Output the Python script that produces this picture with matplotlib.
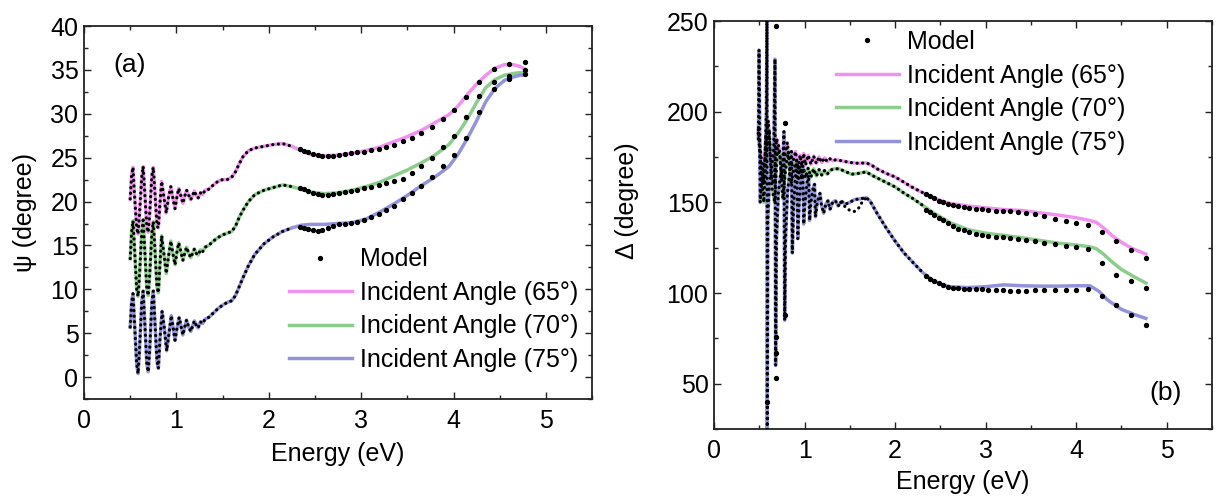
#!/usr/bin/env python
'''
ellipsometry psi / delta vs energy, three incident angles + model
'''
import matplotlib
matplotlib.use('Agg')
import matplotlib.pyplot as plt
from matplotlib.lines import Line2D
from matplotlib.ticker import MultipleLocator

plt.rcParams['font.family'] = ['Liberation Sans', 'DejaVu Sans']

LABELS = ['Incident Angle (65°)', 'Incident Angle (70°)', 'Incident Angle (75°)']
COLORS = ['#ee80ee', '#78c478', '#8080d4']

# ---- panel (a): psi, measured curves (energy eV, psi degree)
psi65 = [(0.50,20.3),(0.515,23.0),(0.53,23.9),(0.545,21.0),(0.57,17.0),(0.585,16.3),(0.60,18.5),(0.625,22.8),
         (0.64,24.0),(0.655,21.5),(0.68,17.0),(0.695,16.5),(0.71,18.5),(0.735,23.0),(0.75,23.9),(0.765,21.5),
         (0.79,17.2),(0.805,17.0),(0.82,19.5),(0.84,22.3),(0.865,20.5),(0.89,18.7),(0.915,20.5),(0.94,21.7),
         (0.96,20.5),(0.985,19.2),(1.005,20.5),(1.025,21.5),(1.05,20.6),(1.07,19.8),(1.09,20.6),(1.11,21.3),
         (1.13,20.8),(1.155,20.2),(1.175,20.7),(1.195,21.2),(1.215,20.7),(1.235,20.4),(1.26,21.0),(1.285,20.8),
         (1.31,21.3),(1.35,21.4),(1.40,21.9),(1.45,22.3),(1.50,22.5),(1.55,22.5),(1.60,22.8),(1.64,23.4),
         (1.68,24.3),(1.72,25.1),(1.78,25.8),(1.85,26.1),(1.95,26.3),(2.05,26.5),(2.15,26.6),(2.25,26.3),
         (2.35,25.8),(2.45,25.4),(2.6,25.2),(2.75,25.3),(2.9,25.5),(3.05,25.8),(3.2,26.2),(3.35,26.8),
         (3.5,27.4),(3.65,28.1),(3.8,29.0),(3.95,29.9),(4.05,30.9),(4.15,32.2),(4.25,33.4),(4.35,34.4),
         (4.45,35.2),(4.55,35.6),(4.65,35.6),(4.72,35.4),(4.77,35.1)]
psi70 = [(0.50,13.5),(0.515,16.5),(0.53,17.8),(0.545,15.0),(0.57,10.0),(0.585,9.2),(0.60,11.5),(0.625,16.5),
         (0.64,17.9),(0.655,15.0),(0.68,10.0),(0.695,9.3),(0.71,11.5),(0.735,16.5),(0.75,17.7),(0.765,15.0),
         (0.79,10.2),(0.805,9.6),(0.82,12.5),(0.84,16.1),(0.865,14.0),(0.89,11.8),(0.915,13.8),(0.94,15.5),
         (0.96,14.2),(0.985,12.8),(1.005,14.2),(1.025,15.3),(1.05,14.2),(1.07,13.3),(1.09,14.1),(1.11,14.8),
         (1.13,14.2),(1.155,13.6),(1.175,14.1),(1.195,14.6),(1.215,14.1),(1.235,13.9),(1.26,14.5),(1.285,14.3),
         (1.31,14.8),(1.35,15.0),(1.40,15.5),(1.45,15.9),(1.50,16.2),(1.55,16.4),(1.60,16.6),(1.64,17.2),
         (1.68,18.2),(1.72,19.0),(1.78,20.0),(1.85,20.8),(1.95,21.3),(2.05,21.6),(2.15,21.9),(2.25,21.7),
         (2.35,21.4),(2.45,21.1),(2.6,20.9),(2.75,21.0),(2.9,21.3),(3.05,21.7),(3.2,22.2),(3.35,22.9),
         (3.5,23.6),(3.65,24.4),(3.8,25.3),(3.95,26.5),(4.05,27.8),(4.15,29.4),(4.25,31.3),(4.35,33.0),
         (4.45,33.9),(4.55,34.4),(4.65,34.6),(4.72,34.7),(4.77,34.7)]
psi75 = [(0.50,5.7),(0.515,8.5),(0.53,9.5),(0.545,6.5),(0.57,1.5),(0.585,0.4),(0.60,3.0),(0.625,8.5),
         (0.64,9.8),(0.655,6.8),(0.68,1.5),(0.695,0.6),(0.71,3.0),(0.735,8.5),(0.75,9.8),(0.765,6.8),
         (0.79,1.8),(0.805,1.0),(0.82,4.0),(0.845,7.5),(0.87,5.5),(0.895,3.0),(0.92,5.0),(0.945,7.0),
         (0.965,5.6),(0.985,4.2),(1.005,5.5),(1.03,6.8),(1.05,5.8),(1.07,4.8),(1.09,5.7),(1.11,6.5),
         (1.13,5.8),(1.155,5.2),(1.175,5.8),(1.195,6.4),(1.215,5.9),(1.235,5.6),(1.26,6.3),(1.285,6.1),
         (1.31,6.6),(1.35,6.8),(1.40,7.3),(1.45,7.8),(1.50,8.2),(1.55,8.5),(1.60,8.7),(1.64,9.3),
         (1.68,10.3),(1.72,11.3),(1.78,12.7),(1.85,14.0),(1.95,15.2),(2.05,16.0),(2.15,16.6),(2.25,17.0),
         (2.35,17.3),(2.45,17.4),(2.6,17.4),(2.75,17.5),(2.9,17.6),(3.05,18.0),(3.2,18.8),(3.35,19.7),
         (3.5,20.7),(3.65,21.8),(3.8,22.8),(3.95,24.0),(4.05,25.4),(4.15,27.2),(4.25,29.2),(4.35,31.4),
         (4.45,32.9),(4.55,33.8),(4.65,34.2),(4.72,34.4),(4.77,34.4)]

# model points above 2.3 eV (discrete dots), shared energies
model_e = [2.34, 2.38, 2.43, 2.48, 2.53, 2.58, 2.64, 2.70, 2.76, 2.82, 2.89, 2.96, 3.03, 3.11,
           3.19, 3.27, 3.36, 3.45, 3.55, 3.65, 3.77, 3.89, 4.00, 4.13, 4.28, 4.44, 4.60, 4.77]
psi65_model = [26.0, 25.8, 25.6, 25.4, 25.3, 25.2, 25.2, 25.2, 25.3, 25.4, 25.5, 25.6, 25.7, 25.9,
               26.0, 26.2, 26.5, 26.9, 27.3, 27.8, 28.5, 29.4, 30.4, 31.9, 33.6, 35.1, 35.7, 35.9]
psi70_model = [21.6, 21.4, 21.2, 21.0, 20.9, 20.8, 20.8, 20.9, 21.0, 21.1, 21.2, 21.3, 21.5, 21.7,
               21.9, 22.1, 22.4, 22.6, 23.3, 24.0, 25.0, 26.2, 27.5, 29.6, 32.0, 33.6, 34.3, 35.0]
psi75_model = [17.1, 17.0, 16.9, 16.8, 16.7, 16.8, 17.0, 17.2, 17.4, 17.5, 17.6, 17.7, 17.9, 18.2,
               18.6, 19.0, 19.5, 20.3, 21.0, 21.8, 22.8, 24.0, 25.3, 27.3, 30.2, 32.8, 34.0, 34.5]

# ---- panel (b): delta, measured curves
d65 = [(0.49,190),(0.52,175),(0.55,160),(0.57,185),(0.60,195),(0.63,165),(0.66,160),(0.69,185),
       (0.72,180),(0.75,162),(0.78,175),(0.81,183),(0.84,168),(0.87,172),(0.90,178),(0.93,168),
       (0.95,176),(0.97,170),(0.99,177),(1.01,170.5),(1.04,176),(1.07,171),(1.10,175.5),(1.13,171.5),
       (1.16,175),(1.19,172),(1.22,174.5),(1.25,172.5),(1.28,174),(1.31,173),(1.35,173.5),(1.4,173),
       (1.5,172),(1.6,171.5),(1.68,171.8),(1.74,170.5),(1.8,168.5),(1.9,166),(2.0,164),(2.1,161),
       (2.2,158),(2.3,155.5),(2.4,153),(2.5,151),(2.6,149.5),(2.8,148),(3.0,147),(3.2,146),
       (3.4,145.5),(3.6,144.2),(3.8,143),(4.0,141.5),(4.15,140),(4.22,139),(4.3,136),(4.4,131.5),
       (4.5,128),(4.62,124.5),(4.77,121.5)]
d70 = [(0.49,188),(0.52,168),(0.55,150),(0.58,180),(0.61,190),(0.64,158),(0.67,150),(0.70,180),
       (0.73,175),(0.76,152),(0.79,168),(0.82,178),(0.85,160),(0.88,168),(0.91,173),(0.93,162),
       (0.95,170),(0.97,163),(0.99,169),(1.01,163.5),(1.04,169),(1.07,164),(1.10,168.5),(1.13,164.5),
       (1.16,168),(1.19,165),(1.22,167.5),(1.25,165.5),(1.28,167.5),(1.32,168.5),(1.38,168.5),(1.45,167),
       (1.52,165.5),(1.6,166),(1.68,166.8),(1.74,165),(1.8,163.5),(1.9,161),(2.0,158.5),(2.1,155),
       (2.2,152),(2.3,148.5),(2.4,145),(2.5,142),(2.6,139),(2.7,137),(2.8,135),(3.0,133),
       (3.2,131.8),(3.4,130.5),(3.6,129),(3.8,127.5),(4.0,126.5),(4.15,125.5),(4.22,124.5),(4.3,121.5),
       (4.4,117),(4.5,113),(4.62,109.5),(4.77,105.5)]
d75 = [(0.49,185),(0.497,234),(0.503,200),(0.51,150),(0.525,160),(0.545,170),(0.565,175),(0.578,200),
       (0.584,255),(0.588,20),(0.594,140),(0.61,160),(0.635,168),(0.66,180),(0.673,229),(0.68,60),
       (0.69,130),(0.71,155),(0.735,165),(0.76,172),(0.772,189),(0.78,85),(0.79,130),(0.81,155),
       (0.84,168),(0.855,178),(0.865,122),(0.88,150),(0.905,168),(0.915,172),(0.925,130),(0.94,150),
       (0.965,165),(0.98,170),(0.99,138),(1.005,150),(1.03,162),(1.045,165),(1.055,140),(1.07,150),
       (1.095,158),(1.11,160),(1.12,142),(1.14,150),(1.17,155),(1.185,149),(1.21,144),(1.235,149),
       (1.26,151),(1.28,146),(1.31,150),(1.34,151),(1.37,148),(1.41,150.5),(1.45,149),(1.50,150),
       (1.55,151.5),(1.62,152),(1.68,152.5),(1.72,151),(1.8,144),(1.9,136),(2.0,128.6),(2.1,122),
       (2.2,116.7),(2.3,111.5),(2.4,107.5),(2.5,105),(2.6,103.5),(2.8,103),(3.0,103.5),(3.2,104.5),
       (3.4,104),(3.6,103.8),(3.8,103.8),(4.0,104),(4.15,104),(4.25,101),(4.35,96),(4.5,91),
       (4.65,88),(4.77,86)]

d65_model = [154.5, 153.5, 152.5, 151.0, 150.0, 149.0, 148.5, 148.0, 147.5, 147.0, 146.5, 146.3, 146.0, 145.5,
             145.3, 145.0, 144.5, 144.0, 143.5, 142.5, 141.0, 139.8, 138.8, 137.5, 133.5, 128.5, 123.5, 119.5]
d70_model = [146.0, 144.5, 143.0, 141.5, 140.0, 138.5, 137.0, 135.5, 134.5, 133.5, 132.8, 132.0, 131.5, 131.0,
             130.7, 130.3, 130.0, 129.3, 128.5, 127.7, 126.8, 126.0, 125.3, 124.0, 116.5, 110.0, 106.5, 103.0]
d75_model = [109.5, 108.0, 106.5, 105.3, 104.3, 103.5, 103.0, 102.5, 102.3, 102.0, 102.0, 102.0, 101.8, 101.6,
             101.5, 101.3, 101.2, 101.3, 101.5, 101.5, 101.4, 101.5, 101.7, 102.0, 98.5, 93.5, 88.0, 82.5]
# model dip under the 75 deg curve and stray model points among the spikes
d75_model_dip = [(1.40,150),(1.45,147.5),(1.50,145.5),(1.55,145),(1.60,147),(1.64,150.5),(1.68,152.5)]
d_model_stray = [(0.683,247),(0.683,53),(0.683,67),(0.683,76),(0.587,40),(0.782,194),(0.782,88)]

E_CUT = 2.3   # below this the model is drawn as a dense dotted trace
FS = 18


def trace(ax, pts, color, lw=2.5, alpha=0.85, z=2):
    x = [p[0] for p in pts]
    y = [p[1] for p in pts]
    ax.plot(x, y, '-', color=color, lw=lw, alpha=alpha, zorder=z)


def model_trace(ax, pts):
    x = [p[0] for p in pts if p[0] <= E_CUT]
    y = [p[1] for p in pts if p[0] <= E_CUT]
    ax.plot(x, y, color='k', lw=2.3, linestyle=(0, (0.05, 1.7)),
            dash_capstyle='round', zorder=3)


def style(ax):
    ax.set_xlim(0, 5.5)
    ax.xaxis.set_major_locator(MultipleLocator(1))
    ax.xaxis.set_minor_locator(MultipleLocator(0.5))
    ax.tick_params(which='both', direction='in', top=True, right=True, width=1.0,
                   labelsize=FS, color='#222222')
    ax.tick_params(which='major', length=5)
    ax.tick_params(which='minor', length=3)
    ax.tick_params(axis='x', pad=7)
    ax.tick_params(axis='y', pad=4)
    for s in ax.spines.values():
        s.set_linewidth(1.3)
        s.set_color('#222222')


def legend(ax, anchor):
    handles = [Line2D([], [], ls='none', marker='o', ms=2.8, color='k')]
    for c in COLORS:
        handles.append(Line2D([], [], color=c, lw=2.5, alpha=0.85))
    ax.legend(handles, ['Model'] + LABELS, loc='center left', bbox_to_anchor=anchor,
              frameon=False, fontsize=FS, handlelength=2.5, handletextpad=0.35,
              labelspacing=0.38, borderpad=0, borderaxespad=0)


fig = plt.figure(figsize=(12.16, 5.04), dpi=100)
ax1 = fig.add_axes([0.0691, 0.2083, 0.4178, 0.740])
ax2 = fig.add_axes([0.5872, 0.1488, 0.4095, 0.8095])

# panel (a)
for pts, c in zip([psi65, psi70, psi75], COLORS):
    trace(ax1, pts, c)
for pts in [psi65, psi70, psi75]:
    model_trace(ax1, pts)
for vals in [psi65_model, psi70_model, psi75_model]:
    ax1.plot(model_e, vals, 'o', ms=2.8, color='k', zorder=4)
style(ax1)
ax1.set_ylim(-2.5, 40)
ax1.yaxis.set_major_locator(MultipleLocator(5))
ax1.yaxis.set_minor_locator(MultipleLocator(2.5))
ax1.set_xlabel('Energy (eV)', fontsize=FS)
ax1.set_ylabel('ψ (degree)', fontsize=FS)
ax1.xaxis.set_label_coords(0.5, -0.115)
ax1.yaxis.set_label_coords(-0.093, 0.5)
ax1.text(0.089, 0.895, '(a)', transform=ax1.transAxes, fontsize=19, ha='center', va='center')
legend(ax1, (0.4035, 0.24))

# panel (b)
for pts, c in zip([d65, d70, d75], COLORS):
    trace(ax2, pts, c)
for pts in [d65, d70, d75, d75_model_dip]:
    model_trace(ax2, pts)
ax2.plot([p[0] for p in d_model_stray], [p[1] for p in d_model_stray], 'o', ms=2.8,
         color='k', zorder=4)
for vals in [d65_model, d70_model, d75_model]:
    ax2.plot(model_e, vals, 'o', ms=2.8, color='k', zorder=4)
style(ax2)
ax2.set_ylim(25, 250)
ax2.yaxis.set_major_locator(MultipleLocator(50))
ax2.yaxis.set_minor_locator(MultipleLocator(25))
ax2.set_xlabel('Energy (eV)', fontsize=FS)
ax2.set_ylabel('Δ (degree)', fontsize=FS)
ax2.xaxis.set_label_coords(0.5, -0.1)
ax2.yaxis.set_label_coords(-0.15, 0.56)
ax2.text(0.906, 0.088, '(b)', transform=ax2.transAxes, fontsize=19, ha='center', va='center')
legend(ax2, (0.245, 0.825))

fig.savefig('out.png', dpi=100)
